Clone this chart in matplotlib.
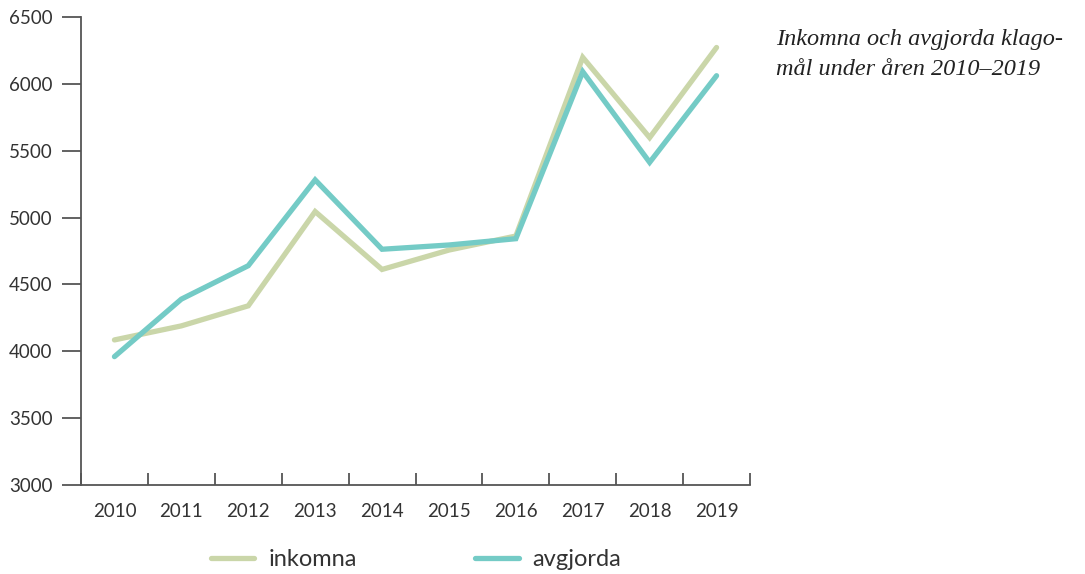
import matplotlib.pyplot as plt
import numpy as np

years = ["2010", "2011", "2012", "2013", "2014", "2015", "2016", "2017", "2018", "2019"]
inkomna = [4085, 4190, 4340, 5045, 4612, 4757, 4862, 6198, 5598, 6272]
avgjorda = [3960, 4390, 4640, 5282, 4763, 4795, 4842, 6091, 5413, 6061]
y_ticks = [3000, 3500, 4000, 4500, 5000, 5500, 6000, 6500]

title = "Inkomna och avgjorda klago-\nmål under åren 2010–2019"

c_ink = "#cad6a9"
c_avg = "#74cbc6"
c_axis = "#555555"
c_text = "#333333"

plt.rcParams["font.family"] = ["Lato", "DejaVu Sans"]

fig = plt.figure(figsize=(10.85, 5.74), dpi=100)
ax = fig.add_axes([81 / 1085, 1 - 485 / 574, (750 - 81) / 1085, (485 - 17) / 574])

x = np.arange(len(years))
ax.plot(x, inkomna, color=c_ink, lw=3.8, solid_capstyle="round", solid_joinstyle="miter",
        label="inkomna")
ax.plot(x, avgjorda, color=c_avg, lw=3.8, solid_capstyle="round", solid_joinstyle="miter",
        label="avgjorda")

ax.set_xlim(-0.5, len(years) - 0.5)
ax.set_ylim(3000, 6500)

ax.spines["top"].set_visible(False)
ax.spines["right"].set_visible(False)
for s in ("left", "bottom"):
    ax.spines[s].set_color(c_axis)
    ax.spines[s].set_linewidth(1.3)

ax.set_yticks(y_ticks)
ax.set_yticklabels([str(v) for v in y_ticks])
ax.tick_params(axis="y", direction="out", length=13.5, width=1.3, color=c_axis,
               pad=7, labelsize=13.5, labelcolor=c_text)

ax.set_xticks(x)
ax.set_xticklabels(years)
ax.set_xticks(np.arange(-0.5, len(years)), minor=True)
ax.tick_params(axis="x", which="major", length=0, pad=13, labelsize=13.5, labelcolor=c_text)
ax.tick_params(axis="x", which="minor", direction="in", length=8.5, width=1.3, color=c_axis)

fig.text(776 / 1085, 1 - 29 / 574, title, ha="left", va="top", fontsize=17.5,
         family="Liberation Serif", style="italic", color="#222222", linespacing=1.55)

fig.legend(loc="center", bbox_to_anchor=(416 / 1085, 1 - 560 / 574), ncol=2, frameon=False,
           fontsize=17, handlelength=1.85, handletextpad=0.6, columnspacing=5.0,
           labelcolor=c_text)

fig.savefig("out.png", dpi=100)
